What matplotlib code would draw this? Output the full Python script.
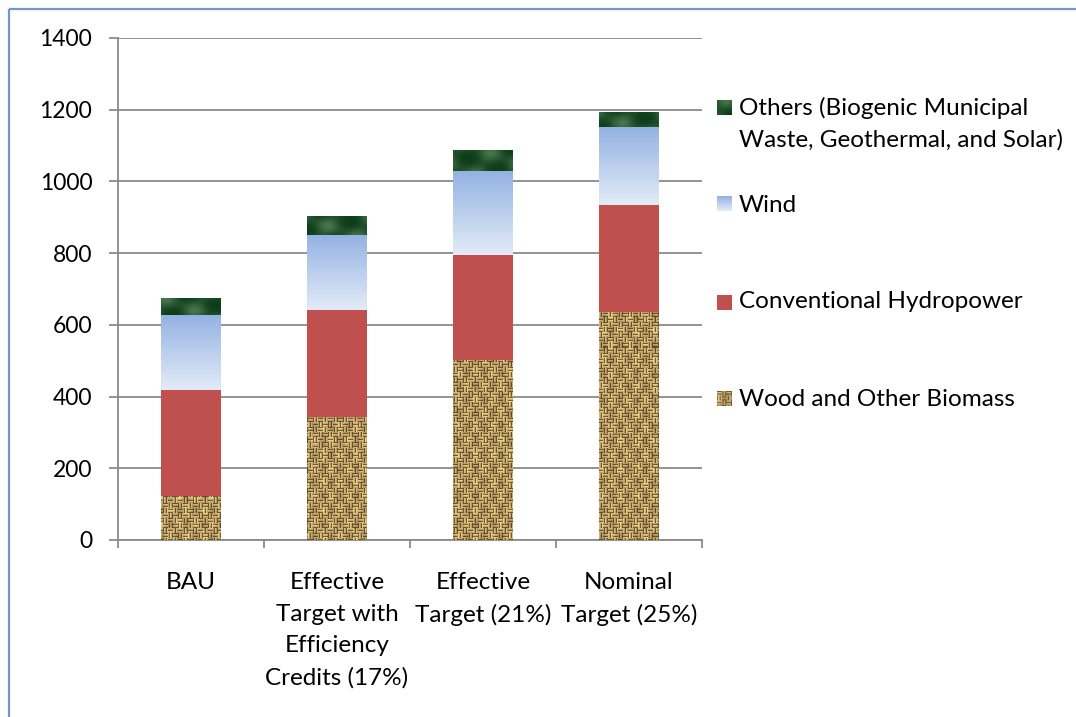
import numpy as np
import matplotlib
matplotlib.use("Agg")
import matplotlib.pyplot as plt
from matplotlib.patches import Rectangle

# ---- data -------------------------------------------------------------
categories = [
    "BAU",
    "Effective\nTarget with\nEfficiency\nCredits (17%)",
    "Effective\nTarget (21%)",
    "Nominal\nTarget (25%)",
]
biomass = [124, 344, 502, 637]
hydro = [294, 297, 293, 297]
wind = [207, 207, 232, 216]
others = [50, 55, 61, 44]

series_labels = [
    "Others (Biogenic Municipal\nWaste, Geothermal, and Solar)",
    "Wind",
    "Conventional Hydropower",
    "Wood and Other Biomass",
]
y_ticks = [0, 200, 400, 600, 800, 1000, 1200, 1400]

# ---- style ------------------------------------------------------------
plt.rcParams["font.family"] = ["Lato", "DejaVu Sans"]
FS = 17.5
FS_TICK = 16.5
LS = 1.63
GRID = "#8a8a8a"
HYDRO = "#c0504d"
W_PX, H_PX = 1076, 717


def weave_texture(h, w):
    """Burlap-like basket weave in tan/brown."""
    yy, xx = np.mgrid[0:h, 0:w]
    cell = 5
    block = ((yy // cell) + (xx // cell)) % 2
    horiz = (yy % 3 == 0)
    vert = (xx % 3 == 0)
    dark = np.where(block == 0, horiz, vert).astype(float)
    light = np.where(block == 0, yy % 3 == 1, xx % 3 == 1).astype(float)
    shade = 0.88 + 0.12 * np.sin(xx * 0.37 + 1.3) * np.sin(yy * 0.23)
    base = np.array([0.82, 0.69, 0.43])
    dk = np.array([0.40, 0.28, 0.11])
    lt = np.array([0.98, 0.91, 0.66])
    img = base[None, None, :] * np.ones((h, w, 1))
    img = img * (1 - 0.78 * dark[..., None]) + dk * 0.78 * dark[..., None]
    img = img * (1 - 0.65 * light[..., None]) + lt * 0.65 * light[..., None]
    img = img * shade[..., None]
    return np.clip(img, 0, 1)


def mottled_green(h, w):
    yy, xx = np.mgrid[0:h, 0:w]
    m = (0.5 + 0.25 * np.sin(xx * 0.17 + yy * 0.12)
         + 0.25 * np.sin(xx * 0.09 - yy * 0.23 + 0.7))
    m = np.clip(m, 0, 1) ** 1.6
    dark = np.array([0.05, 0.24, 0.10])
    light = np.array([0.28, 0.46, 0.30])
    return dark + (light - dark) * m[..., None]


def wind_gradient(n=64):
    top = np.array([0.58, 0.70, 0.89])
    bot = np.array([0.89, 0.92, 0.97])
    t = np.linspace(0, 1, n)[:, None]
    return (top + (bot - top) * t)[:, None, :]


# ---- figure -----------------------------------------------------------
fig = plt.figure(figsize=(W_PX / 100, H_PX / 100), dpi=100)
ax = fig.add_axes([118 / W_PX, 1 - 540 / H_PX, 584 / W_PX, 502 / H_PX])

x = np.arange(len(categories))
width = 0.41
ax.set_xlim(-0.5, len(categories) - 0.5)
ax.set_ylim(0, 1400)

bottoms_h = np.array(biomass)
bottoms_w = bottoms_h + np.array(hydro)
bottoms_o = bottoms_w + np.array(wind)

bars_bio = ax.bar(x, biomass, width, color="none", linewidth=0, zorder=3)
bars_hyd = ax.bar(x, hydro, width, bottom=bottoms_h, color=HYDRO,
                  linewidth=0, zorder=3)
bars_wnd = ax.bar(x, wind, width, bottom=bottoms_w, color="none",
                  linewidth=0, zorder=3)
bars_oth = ax.bar(x, others, width, bottom=bottoms_o, color="none",
                  linewidth=0, zorder=3)

full_extent = (-0.5, len(categories) - 0.5, 0, 1400)
tex_bio = weave_texture(502, 584)
tex_oth = mottled_green(502, 584)
for p in bars_bio:
    im = ax.imshow(tex_bio, extent=full_extent, aspect="auto",
                   interpolation="nearest", zorder=3)
    im.set_clip_path(p)
for p in bars_oth:
    im = ax.imshow(tex_oth, extent=full_extent, aspect="auto",
                   interpolation="bilinear", zorder=3)
    im.set_clip_path(p)
for p in bars_wnd:
    bx, by = p.get_x(), p.get_y()
    ax.imshow(wind_gradient(), extent=(bx, bx + p.get_width(), by,
                                       by + p.get_height()),
              aspect="auto", interpolation="bilinear", zorder=3)
ax.set_xlim(-0.5, len(categories) - 0.5)
ax.set_ylim(0, 1400)

# axes styling
ax.set_yticks(y_ticks)
ax.set_yticklabels([str(v) for v in y_ticks], fontsize=FS_TICK)
ax.yaxis.grid(True, color=GRID, linewidth=1.3)
ax.set_axisbelow(True)
for s in ["top", "right"]:
    ax.spines[s].set_visible(False)
for s in ["left", "bottom"]:
    ax.spines[s].set_color(GRID)
    ax.spines[s].set_linewidth(1.3)
ax.tick_params(axis="y", direction="out", length=6.5, width=1.3,
               color=GRID, pad=12)

ax.set_xticks(x)
ax.set_xticklabels(categories, fontsize=FS, linespacing=LS)
ax.tick_params(axis="x", which="major", length=0, pad=23)
ax.set_xticks(np.arange(-0.5, len(categories)), minor=True)
ax.tick_params(axis="x", which="minor", direction="out", length=6,
               width=1.3, color=GRID)

# ---- overlay in pixel space: legend and chart frame -------------------
lax = fig.add_axes([0, 0, 1, 1], facecolor="none")
lax.set_xlim(0, W_PX)
lax.set_ylim(H_PX, 0)
lax.axis("off")

lax.add_patch(Rectangle((9, 9), 1200, 900, fill=False,
                        edgecolor="#6f97cc", linewidth=1.6))

swatch_y = [108, 204, 302, 399]
text_y = [124, 205, 302, 400]
swatches = [mottled_green(16, 16), wind_gradient(16), None,
            weave_texture(16, 16)]
for lbl, ys, yt, sw in zip(series_labels, swatch_y, text_y, swatches):
    ext = (717, 732, ys + 7.5, ys - 7.5)
    if sw is None:
        lax.add_patch(Rectangle((717, ys - 7.5), 15, 15, facecolor=HYDRO,
                                linewidth=0))
    else:
        lax.imshow(sw, extent=ext, aspect="auto", interpolation="bilinear")
    lax.text(739, yt, lbl, fontsize=FS, va="center", ha="left",
             linespacing=1.55)

lax.set_xlim(0, W_PX)
lax.set_ylim(H_PX, 0)

fig.savefig("out.png", dpi=100)
